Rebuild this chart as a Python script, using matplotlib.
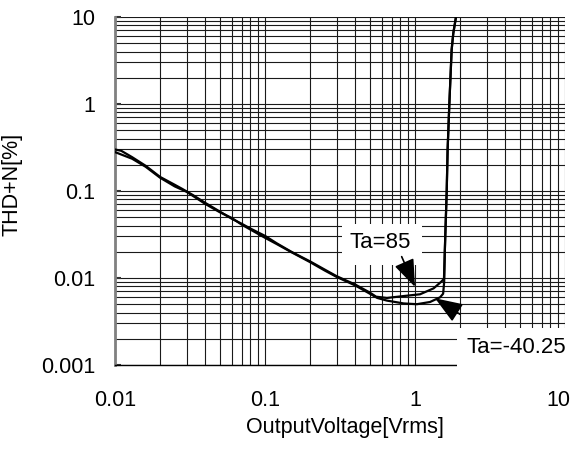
import matplotlib
matplotlib.use("Agg")
import matplotlib.pyplot as plt
import matplotlib.transforms as mtransforms
from matplotlib.ticker import FixedLocator, FixedFormatter, LogLocator, NullFormatter
from matplotlib.patches import Rectangle

plt.rcParams['font.family'] = ['Liberation Sans', 'DejaVu Sans']

# ---- data ----
x_ta85 = [0.01, 0.011, 0.013, 0.016, 0.02, 0.025, 0.028, 0.033, 0.04, 0.05, 0.06, 0.07,
          0.08, 0.1, 0.12, 0.15, 0.2, 0.25, 0.3, 0.4, 0.5, 0.55, 0.65, 0.84, 1.08, 1.33,
          1.5, 1.56, 1.58, 1.594, 1.627, 1.65, 1.694, 1.755, 1.8, 1.876]
y_ta85 = [0.30, 0.29, 0.245, 0.195, 0.145, 0.118, 0.106, 0.090, 0.073, 0.058, 0.048, 0.042,
          0.037, 0.0305, 0.025, 0.020, 0.0155, 0.0125, 0.0105, 0.0084, 0.0068, 0.0061, 0.0059,
          0.0062, 0.0065, 0.0076, 0.0091, 0.0098, 0.02, 0.033, 0.1, 0.3, 1.0, 4.2, 6.5, 10.0]

x_ta40 = [0.01, 0.013, 0.016, 0.02, 0.025, 0.03, 0.04, 0.05, 0.06, 0.07, 0.08, 0.1, 0.12,
          0.15, 0.2, 0.25, 0.3, 0.4, 0.5, 0.56, 0.65, 0.84, 1.03, 1.26, 1.47, 1.54, 1.565,
          1.58, 1.594, 1.627, 1.65, 1.694, 1.755, 1.8, 1.876]
y_ta40 = [0.28, 0.235, 0.19, 0.142, 0.113, 0.098, 0.071, 0.057, 0.049, 0.041, 0.036, 0.029,
          0.0245, 0.0198, 0.0152, 0.0122, 0.0103, 0.0082, 0.0066, 0.0059, 0.0055, 0.0051,
          0.0050, 0.0053, 0.0060, 0.0066, 0.009, 0.02, 0.033, 0.1, 0.3, 1.0, 4.2, 6.5, 10.0]

x_ticks = [0.01, 0.1, 1, 10]
x_tick_labels = ['0.01', '0.1', '1', '10']
y_ticks = [0.001, 0.01, 0.1, 1, 10]
y_tick_labels = ['0.001', '0.01', '0.1', '1', '10']

label_85 = 'Ta=85'
label_40 = 'Ta=-40.25'
x_label = 'OutputVoltage[Vrms]'
y_label = 'THD+N[%]'

# ---- figure ----
W, H = 573, 450
fig = plt.figure(figsize=(W / 100, H / 100), dpi=100)
ax = fig.add_axes([115 / W, 1 - 365 / H, 450 / W, 348 / H])
ax.set_xscale('log')
ax.set_yscale('log')
ax.set_xlim(0.01, 10)
ax.set_ylim(0.001, 10)

ax.plot(x_ta85, y_ta85, color='black', lw=1.6, zorder=3, solid_joinstyle='round')
ax.plot(x_ta40, y_ta40, color='black', lw=1.6, zorder=3, solid_joinstyle='round')

ax.xaxis.set_major_locator(FixedLocator(x_ticks))
ax.xaxis.set_major_formatter(FixedFormatter(x_tick_labels))
ax.yaxis.set_major_locator(FixedLocator(y_ticks))
ax.yaxis.set_major_formatter(FixedFormatter(y_tick_labels))
ax.xaxis.set_minor_locator(LogLocator(base=10, subs=range(2, 10)))
ax.yaxis.set_minor_locator(LogLocator(base=10, subs=range(2, 10)))
ax.xaxis.set_minor_formatter(NullFormatter())
ax.yaxis.set_minor_formatter(NullFormatter())

ax.set_axisbelow(True)
ax.grid(which='both', color='#1a1a1a', lw=0.8)

ax.tick_params(axis='y', which='major', direction='in', length=4.5, width=1.5,
               color='#333333', labelsize=15.5, pad=14)
ax.tick_params(axis='x', which='major', length=0, labelsize=15.5, pad=18)
ax.tick_params(which='minor', length=0)

# last x tick label pulled inside the figure like the reference
last = ax.get_xticklabels()[-1]
last.set_horizontalalignment('right')
last.set_transform(last.get_transform() +
                   mtransforms.ScaledTranslation(5 / 100, 0, fig.dpi_scale_trans))

ax.spines['top'].set_visible(False)
ax.spines['right'].set_visible(False)
ax.spines['left'].set_color('#808080')
ax.spines['left'].set_linewidth(2)
ax.spines['bottom'].set_color('black')
ax.spines['bottom'].set_linewidth(1)

ax.set_xlabel(x_label, fontsize=15.5)
ax.set_ylabel(y_label, fontsize=15.5)
ax.xaxis.set_label_coords(0.511, -0.148)
ax.yaxis.set_label_coords(-0.205, 0.52)

# white label boxes
ax.add_patch(Rectangle((0.5044, 0.2874), 0.1778, 0.1178, transform=ax.transAxes,
                       facecolor='white', edgecolor='none', zorder=4))
ax.add_patch(Rectangle((0.76, -0.0086), 0.26, 0.115, transform=ax.transAxes,
                       facecolor='white', edgecolor='none', zorder=4, clip_on=False))

ax.text(0.584, 0.0221, label_85, fontsize=16, ha='center', va='baseline', zorder=6)
ax.text(2.21, 0.00136, label_40, fontsize=16, ha='left', va='baseline', zorder=6,
        clip_on=False)

arrow = dict(arrowstyle='-|>,head_length=0.85,head_width=0.32', mutation_scale=20,
             color='black', lw=1.2, shrinkA=0, shrinkB=0)
ax.annotate('', xy=(1.0, 0.0079), xytext=(0.815, 0.0176), arrowprops=arrow, zorder=5)
ax.annotate('', xy=(1.36, 0.00585), xytext=(1.995, 0.00383), arrowprops=arrow, zorder=5,
            annotation_clip=False)

fig.savefig('out.png', dpi=100)
